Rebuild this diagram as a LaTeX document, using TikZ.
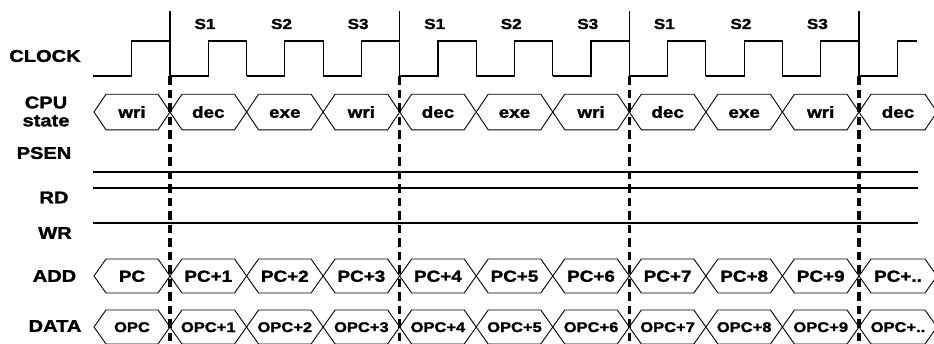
\documentclass[tikz,border=0pt]{standalone}
\usepackage{fontspec}
\newfontfamily\arb{Liberation Sans}[FakeStretch=1.18, FakeBold=1.6, UprightFont=* Bold, BoldFont=* Bold]
\begin{document}
\begin{tikzpicture}[x=1pt,y=-1pt,
  sig/.style={line width=1.2pt, line join=miter},
  bus/.style={line width=0.9pt, line join=miter},
  cyc/.style={line width=3.4pt, dash pattern=on 8.5pt off 5pt},
  tick/.style={line width=1.1pt},
  lbl/.style={font=\arb\fontsize{17}{19}\selectfont, inner sep=0pt, align=center},
  slbl/.style={font=\arb\fontsize{14.5}{15}\selectfont, inner sep=0pt},
  stxt/.style={font=\arb\fontsize{16}{16}\selectfont, inner sep=0pt, text height=11.5pt, text depth=0pt},
  atxt/.style={font=\arb\fontsize{16}{16}\selectfont, inner sep=0pt, text height=11.5pt, text depth=0pt},
  dtxt/.style={font=\arb\fontsize{14}{14}\selectfont, inner sep=0pt, text height=10pt, text depth=0pt}]
\useasboundingbox (0,0) rectangle (934,343);
\clip (0,0) rectangle (934,343);
\def\s{76.555}
\newcommand\hexcell[7]{%
  \draw[bus] ({#2},{#4}) -- ({#2+12},{#4-#5}) -- ({#3-12},{#4-#5}) -- ({#3},{#4})
    -- ({#3-12},{#4+#5}) -- ({#2+12},{#4+#5}) -- cycle;
  \node[#7] (#1) at ({(#2+#3)/2},{#4}) {#6};}

% row labels
\node[lbl] (lclk) at (45,56) {CLOCK};
\node[lbl] (lcpu) at (46,111.5) {CPU\\[-1pt]state};
\node[lbl] (lpsen) at (44,153) {PSEN};
\node[lbl] (lrd) at (54,197.5) {RD};
\node[lbl] (lwr) at (55,233) {WR};
\node[lbl] (ladd) at (54.5,276) {ADD};
\node[lbl] (ldata) at (55,326) {DATA};

% clock
\draw[sig] (93,76) -- (131.7,76) -- (131.7,41) -- (170,41) -- (170,76);
\foreach \k in {0,...,8} {
  \pgfmathsetmacro\a{170+\k*\s}
  \pgfmathsetmacro\b{170+(\k+1)*\s}
  \pgfmathsetmacro\m{\a+\s/2}
  \draw[sig] (\a,76) -- (\m,76) -- (\m,41) -- (\b,41) -- (\b,76);
}
\draw[sig] (859,76) -- (897.3,76) -- (897.3,41) -- (917,41);

% state labels
\foreach \k/\sl in {0/S1,1/S2,2/S3,3/S1,4/S2,5/S3,6/S1,7/S2,8/S3} {
  \node[slbl] (s\k) at ({170+\k*\s+35},24) {\sl};
}

% cycle markers
\foreach \k in {0,3,6,9} {
  \pgfmathsetmacro\a{170+\k*\s}
  \draw[tick] (\a,11) -- (\a,76);
  \draw[cyc] (\a,76) -- (\a,346);
}

% control lines
\draw[sig] (93,172) -- (918,172);
\draw[sig] (93,188) -- (918,188);
\draw[sig] (93,223) -- (918,223);

% CPU state bus
\hexcell{st0}{94}{170}{112}{17.8}{wri}{stxt}
\foreach \k/\st in {1/dec,2/exe,3/wri,4/dec,5/exe,6/wri,7/dec,8/exe,9/wri} {
  \pgfmathsetmacro\a{170+(\k-1)*\s}
  \pgfmathsetmacro\b{170+\k*\s}
  \hexcell{st\k}{\a}{\b}{112}{17.8}{\st}{stxt}
}
\hexcell{st10}{859}{937}{112}{17.8}{dec}{stxt}

% ADD bus
\hexcell{ad0}{94}{170}{276}{17}{PC}{atxt}
\foreach \k in {1,...,9} {
  \pgfmathsetmacro\a{170+(\k-1)*\s}
  \pgfmathsetmacro\b{170+\k*\s}
  \hexcell{ad\k}{\a}{\b}{276}{17}{PC+\k}{atxt}
}
\hexcell{ad10}{859}{937}{276}{17}{PC+..}{atxt}

% DATA bus
\hexcell{da0}{94}{170}{327}{17}{OPC}{dtxt}
\foreach \k in {1,...,9} {
  \pgfmathsetmacro\a{170+(\k-1)*\s}
  \pgfmathsetmacro\b{170+\k*\s}
  \hexcell{da\k}{\a}{\b}{327}{17}{OPC+\k}{dtxt}
}
\hexcell{da10}{859}{937}{327}{17}{OPC+..}{dtxt}
\end{tikzpicture}
\end{document}
